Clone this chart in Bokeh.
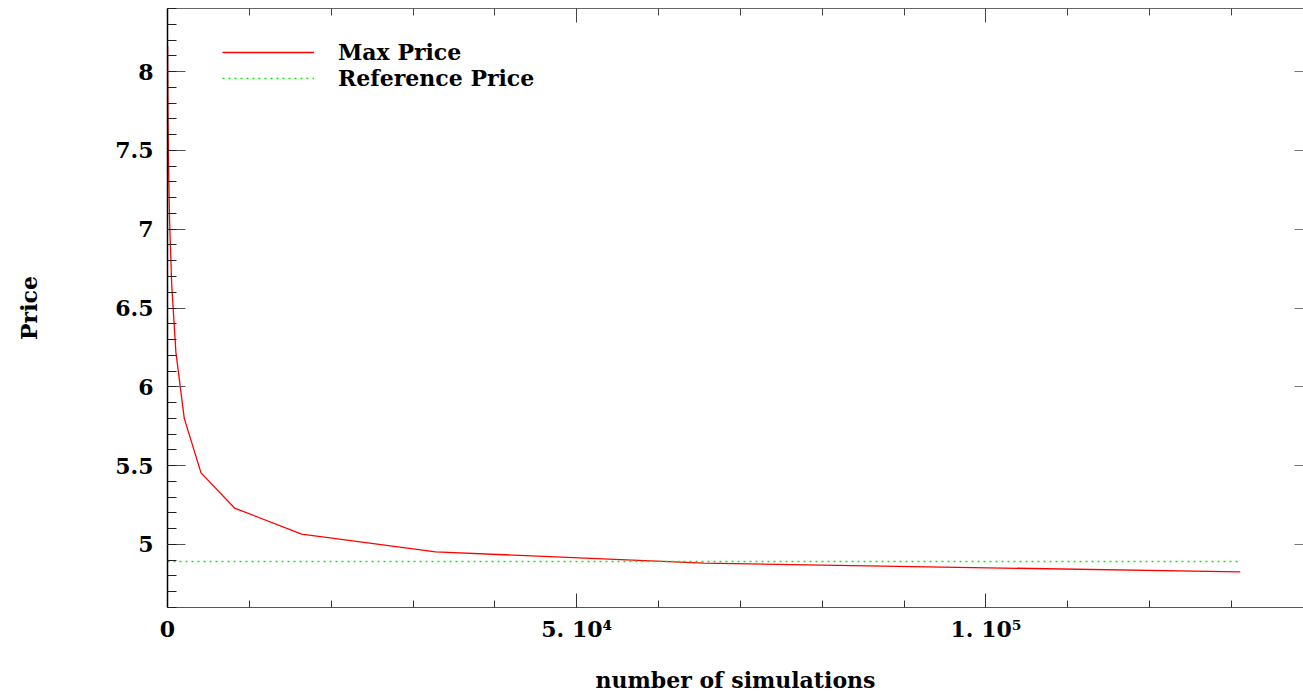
from bokeh.plotting import figure
from bokeh.models import (LinearAxis, SingleIntervalTicker, NumeralTickFormatter,
                          CustomJSTickFormatter, Legend, LegendItem, Range1d)
from bokeh.embed import file_html
from bokeh.resources import INLINE

# ---- data ----
simulations = [16, 32, 64, 128, 256, 512, 1024, 2048, 4096, 8192, 16384, 32768, 65536, 131072]
max_price = [8.16, 7.95, 7.70, 7.40, 7.05, 6.65, 6.22, 5.80, 5.454, 5.231, 5.065, 4.953, 4.881, 4.826]
ref_x = [0, 131072]
ref_price = [4.892, 4.892]

x_tick_labels = {0: "0", 50000: "5. 10\u2074", 100000: "1. 10\u2075"}
x_label = "number of simulations"
y_label = "Price"
series_names = ["Max Price", "Reference Price"]

FONT = "DejaVu Serif"
FS = "22px"

p = figure(width=1303, height=695, output_backend="svg", toolbar_location=None,
           x_range=Range1d(0, 138800), y_range=Range1d(4.6, 8.4),
           x_axis_location=None, y_axis_location=None,
           min_border_left=167, min_border_top=8, min_border_bottom=88, min_border_right=0)
p.outline_line_color = None
p.xgrid.visible = False
p.ygrid.visible = False
p.background_fill_color = "white"
p.border_fill_color = "white"

xt = SingleIntervalTicker(interval=50000, num_minor_ticks=5)
yt = SingleIntervalTicker(interval=0.5, num_minor_ticks=5)
blank = CustomJSTickFormatter(code="return ''")

# bottom axis
xb = LinearAxis(ticker=xt, axis_label=x_label)
xb.major_label_overrides = x_tick_labels
xb.major_tick_in = 14
xb.major_tick_out = 0
xb.minor_tick_in = 7
xb.minor_tick_out = 0
xb.axis_line_color = "#555555"
xb.major_tick_line_color = "#333333"
xb.minor_tick_line_color = "#333333"
xb.major_label_standoff = 8
xb.major_label_text_font = FONT
xb.major_label_text_font_style = "bold"
xb.major_label_text_font_size = FS
xb.major_label_text_color = "black"
xb.axis_label_text_font = FONT
xb.axis_label_text_font_style = "bold"
xb.axis_label_text_font_size = FS
xb.axis_label_text_color = "black"
xb.axis_label_standoff = 22
p.add_layout(xb, "below")

# left axis
yl = LinearAxis(ticker=yt, axis_label=y_label, formatter=NumeralTickFormatter(format="0.[0]"))
yl.major_tick_in = 18
yl.major_tick_out = 0
yl.minor_tick_in = 9
yl.minor_tick_out = 0
yl.axis_line_color = "black"
yl.axis_line_width = 1.5
yl.major_tick_line_color = "#555555"
yl.minor_tick_line_color = "#222222"
yl.major_label_standoff = 14
yl.major_label_text_font = FONT
yl.major_label_text_font_style = "bold"
yl.major_label_text_font_size = FS
yl.major_label_text_color = "black"
yl.axis_label_text_font = FONT
yl.axis_label_text_font_style = "bold"
yl.axis_label_text_font_size = FS
yl.axis_label_text_color = "black"
yl.axis_label_standoff = 70
p.add_layout(yl, "left")

# top axis (ticks only)
xa = LinearAxis(ticker=xt, formatter=blank)
xa.major_tick_in = 14
xa.major_tick_out = 0
xa.minor_tick_in = 7
xa.minor_tick_out = 0
xa.axis_line_color = "#666666"
xa.major_tick_line_color = "#444444"
xa.minor_tick_line_color = "#444444"
xa.major_label_standoff = 0
xa.major_label_text_font_size = "1px"
p.add_layout(xa, "above")

# right axis (ticks only)
yr = LinearAxis(ticker=SingleIntervalTicker(interval=0.5, num_minor_ticks=0), formatter=blank)
yr.major_tick_in = 9
yr.major_tick_out = 0
yr.minor_tick_in = 0
yr.minor_tick_out = 0
yr.axis_line_color = None
yr.major_tick_line_color = "#777777"
yr.major_label_standoff = 0
yr.major_label_text_font_size = "1px"
p.add_layout(yr, "right")

r1 = p.line(simulations, max_price, line_color="red", line_width=1.3)
r2 = p.line(ref_x, ref_price, line_color="#00ee00", line_width=1.5, line_dash="2 4")

legend = Legend(items=[LegendItem(label=series_names[0], renderers=[r1]),
                       LegendItem(label=series_names[1], renderers=[r2])],
                location=(55, 516), orientation="vertical")
legend.border_line_color = None
legend.background_fill_alpha = 0
legend.padding = 0
legend.margin = 0
legend.spacing = 0
legend.glyph_width = 92
legend.glyph_height = 26
legend.label_height = 26
legend.label_standoff = 24
legend.label_text_font = FONT
legend.label_text_font_style = "bold"
legend.label_text_font_size = FS
legend.label_text_color = "black"
legend.label_text_baseline = "middle"
p.add_layout(legend, "center")

open("out.html", "w").write(file_html(p, INLINE))
